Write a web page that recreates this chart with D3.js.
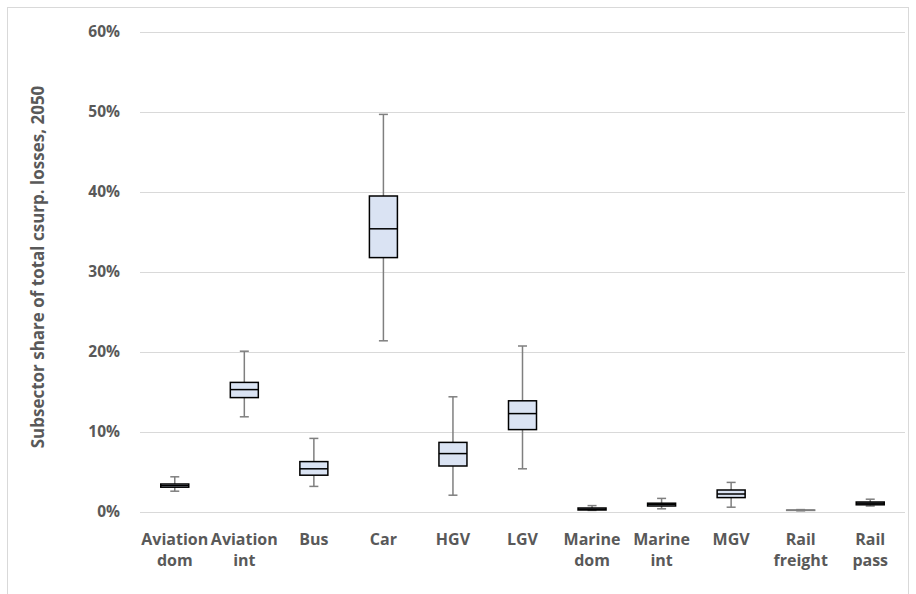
<!DOCTYPE html>
<html>
<head>
<meta charset="utf-8">
<script src="https://cdn.jsdelivr.net/npm/d3@7"></script>
<style>
  body { margin: 0; background: #fff; }
  text { font-family: "Open Sans", Lato, sans-serif; font-weight: bold; fill: #595959; }
</style>
</head>
<body>
<div id="chart"></div>
<script>
// subsector names (two-line labels)
const categories = ["Aviation dom", "Aviation int", "Bus", "Car", "HGV", "LGV",
                    "Marine dom", "Marine int", "MGV", "Rail freight", "Rail pass"];
const labelLines = [["Aviation", "dom"], ["Aviation", "int"], ["Bus"], ["Car"], ["HGV"], ["LGV"],
                    ["Marine", "dom"], ["Marine", "int"], ["MGV"], ["Rail", "freight"], ["Rail", "pass"]];
// box plot stats, in percent
const whiskerLow  = [2.6, 11.9, 3.2, 21.4, 2.1, 5.4, 0.2, 0.4, 0.6, 0.15, 0.75];
const q1          = [3.1, 14.3, 4.6, 31.8, 5.75, 10.3, 0.25, 0.75, 1.8, 0.2, 0.9];
const median      = [3.3, 15.3, 5.4, 35.4, 7.3, 12.3, 0.35, 0.95, 2.25, 0.22, 1.1];
const q3          = [3.5, 16.2, 6.3, 39.5, 8.7, 13.9, 0.5, 1.1, 2.75, 0.25, 1.25];
const whiskerHigh = [4.4, 20.1, 9.2, 49.7, 14.4, 20.75, 0.8, 1.7, 3.7, 0.3, 1.6];
const yTicks = [0, 10, 20, 30, 40, 50, 60];

const W = 916, H = 594;
const margin = { top: 32, right: 11, bottom: 82, left: 140 };
const width = W - margin.left - margin.right;
const height = H - margin.top - margin.bottom;

const svg = d3.select("#chart").append("svg")
    .attr("width", W)
    .attr("height", H);

// chart area border
svg.append("rect")
    .attr("x", 7.5).attr("y", 7.5)
    .attr("width", 901).attr("height", 600)
    .attr("fill", "none")
    .attr("stroke", "#d9d9d9");

const g = svg.append("g")
    .attr("transform", `translate(${margin.left}, ${margin.top})`);

const x = d3.scaleBand().domain(categories).range([0, width]);
const y = d3.scaleLinear().domain([0, 60]).range([height, 0]);

// gridlines
g.selectAll(".grid")
    .data(yTicks)
    .enter()
    .append("line")
    .attr("x1", 0).attr("x2", width)
    .attr("y1", d => Math.round(y(d)) + 0.5)
    .attr("y2", d => Math.round(y(d)) + 0.5)
    .attr("stroke", "#d9d9d9")
    .attr("stroke-width", 1);

// y axis labels
const yAxis = d3.axisLeft(y).tickValues(yTicks).tickFormat(d => d + "%").tickSize(0).tickPadding(20);
g.append("g").call(yAxis)
    .call(a => a.select(".domain").remove())
    .selectAll("text")
    .style("font-family", "'Open Sans', sans-serif")
    .style("font-size", "15.5px");

// axis title
svg.append("text")
    .attr("transform", `translate(44, ${margin.top + 235}) rotate(-90)`)
    .style("text-anchor", "middle")
    .style("font-size", "17px")
    .text("Subsector share of total csurp. losses, 2050");

// x labels
const xl = g.selectAll(".xlabel")
    .data(categories)
    .enter()
    .append("text")
    .attr("class", "xlabel")
    .attr("x", d => x(d) + x.bandwidth() / 2)
    .attr("y", height + 33)
    .style("text-anchor", "middle")
    .style("font-size", "16px");
xl.selectAll("tspan")
    .data((d, i) => labelLines[i])
    .enter()
    .append("tspan")
    .attr("x", function() { return this.parentNode.getAttribute("x"); })
    .attr("dy", (d, i) => i === 0 ? 0 : 21)
    .text(d => d);

// boxes
const boxW = 28, capW = 9;
const boxes = g.selectAll(".box")
    .data(categories)
    .enter()
    .append("g")
    .attr("class", "box")
    .attr("transform", d => `translate(${x(d) + x.bandwidth() / 2}, 0)`);

boxes.append("line")
    .attr("x1", 0).attr("x2", 0)
    .attr("y1", (d, i) => y(whiskerHigh[i]))
    .attr("y2", (d, i) => y(whiskerLow[i]))
    .attr("stroke", "#7f7f7f")
    .attr("stroke-width", 1.5);

boxes.selectAll(".cap")
    .data((d, i) => [whiskerHigh[i], whiskerLow[i]])
    .enter()
    .append("line")
    .attr("x1", -capW / 2).attr("x2", capW / 2)
    .attr("y1", v => y(v)).attr("y2", v => y(v))
    .attr("stroke", "#7f7f7f")
    .attr("stroke-width", 1.5);

boxes.append("rect")
    .attr("x", -boxW / 2)
    .attr("y", (d, i) => y(q3[i]))
    .attr("width", boxW)
    .attr("height", (d, i) => y(q1[i]) - y(q3[i]))
    .attr("fill", "#dae3f3")
    .attr("stroke", (d, i) => categories[i] === "Rail freight" ? "#7f7f7f" : "#000")
    .attr("stroke-width", 1.5);

boxes.append("line")
    .attr("x1", -boxW / 2).attr("x2", boxW / 2)
    .attr("y1", (d, i) => y(median[i]))
    .attr("y2", (d, i) => y(median[i]))
    .attr("stroke", (d, i) => categories[i] === "Rail freight" ? "#7f7f7f" : "#000")
    .attr("stroke-width", 1.5);
</script>
</body>
</html>
